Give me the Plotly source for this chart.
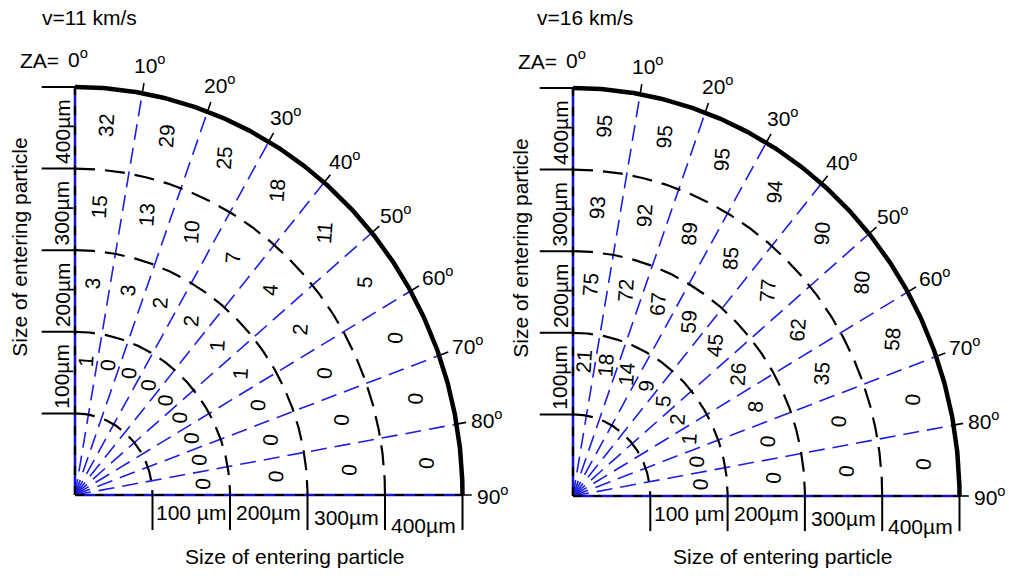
import numpy as np
import plotly.graph_objects as go

# Zenith angles of the sector boundaries (degrees from vertical)
zenith_deg = [0, 10, 20, 30, 40, 50, 60, 70, 80, 90]
# Particle size bin edges (µm); each bin is labelled by its lower edge
bin_edges_um = [100, 200, 300, 400, 500]
x_size_labels = ["100 µm", "200µm", "300µm", "400µm"]
y_size_labels = ["100µm", "200µm", "300µm", "400µm"]

# Percentages per size bin (rows: 100, 200, 300, 400 µm) and zenith sector (0-10 ... 80-90)
pct_v11 = [
    [1, 0, 0, 0, 0, 0, 0, 0, 0],
    [3, 3, 2, 2, 1, 1, 0, 0, 0],
    [15, 13, 10, 7, 4, 2, 0, 0, 0],
    [32, 29, 25, 18, 11, 5, 0, 0, 0],
]
pct_v16 = [
    [21, 18, 14, 9, 5, 2, 1, 0, 0],
    [75, 72, 67, 59, 45, 26, 8, 0, 0],
    [93, 92, 89, 85, 77, 62, 35, 0, 0],
    [95, 95, 95, 94, 90, 80, 58, 0, 0],
]
speed_titles = ["v=11 km/s", "v=16 km/s"]
axis_title = "Size of entering particle"

FONT = "Liberation Sans, Arial, sans-serif"
BLUE = "#1e1ee0"
AXIS_BLUE = "#1515c8"
W, H = 1009, 576
FS = 21

# Pixel placement of each quadrant: origin, size of one 100 µm step, title positions
panels = [
    dict(data=pct_v11, title=speed_titles[0], xa="x", ya="y", dom=[0, 0.5],
         ox=75, oy=495, ux=77.5, uy=81.6, title_px=40, ytitle_px=20, xtitle_px=294),
    dict(data=pct_v16, title=speed_titles[1], xa="x2", ya="y2", dom=[0.5, 1],
         ox=573, oy=496, ux=77.3, uy=81.6, title_px=535, ytitle_px=521, xtitle_px=782),
]

fig = go.Figure()
annotations = []
STEP = 100.0  # µm per radial unit


def line(xs, ys, p, color, width, dash="solid"):
    fig.add_trace(go.Scatter(x=xs, y=ys, mode="lines", xaxis=p["xa"], yaxis=p["ya"],
                             line=dict(color=color, width=width, dash=dash),
                             hoverinfo="skip", showlegend=False))


def note(p, x, y, text, size=FS, angle=0, **kw):
    annotations.append(dict(x=x, y=y, xref=p["xa"], yref=p["ya"], text=text,
                            showarrow=False, textangle=angle,
                            font=dict(family=FONT, size=size, color="black"), **kw))


for p in panels:
    radii = [e / STEP for e in bin_edges_um]
    r_out = radii[-1]
    th = np.radians(np.linspace(0, 90, 240))
    px_x = lambda px: (px - p["ox"]) / p["ux"]
    px_y = lambda py: (p["oy"] - py) / p["uy"]

    # blue dashed zenith-angle rays
    for a in zenith_deg[1:-1]:
        t = np.radians(a)
        line([0, r_out * np.sin(t)], [0, r_out * np.cos(t)], p, BLUE, 1.6, "16px,8px")

    # 0° and 90° axes: blue with black dashes over them
    line([0, 0], [0, r_out], p, AXIS_BLUE, 2.6)
    line([0, r_out], [0, 0], p, AXIS_BLUE, 2.6)
    line([0, 0], [0, r_out], p, "black", 2.2, "9px,11px")
    line([0, r_out], [0, 0], p, "black", 2.2, "9px,11px")

    # size-bin arcs
    for r in radii[:-1]:
        line(r * np.sin(th), r * np.cos(th), p, "black", 2.2, "20px,10px")
    line(r_out * np.sin(th), r_out * np.cos(th), p, "black", 4.5)

    # ticks along both axes
    for r in radii:
        line([-0.43, 0], [r, r], p, "black", 2)
        line([r, r], [0, -0.43], p, "black", 2)
    # small outward ticks on the outer arc
    for a in zenith_deg[1:-1]:
        t = np.radians(a)
        line([r_out * np.sin(t), 1.025 * r_out * np.sin(t)],
             [r_out * np.cos(t), 1.025 * r_out * np.cos(t)], p, "black", 1.6)
    line([r_out, r_out + 0.12], [0, 0], p, "black", 1.6)

    # zenith angle labels
    for a in zenith_deg:
        t = np.radians(a)
        rl = 5.36
        note(p, rl * np.sin(t), rl * np.cos(t), f"{a}<sup>o</sup>", xshift=3)
    note(p, px_x(p["ox"] - 14), 5.33, "ZA=", xanchor="right")

    # size labels on both axes
    y_off = [-0.22, -0.22, -0.27, -0.37]
    for i, lab in enumerate(x_size_labels):
        mid = (radii[i] + radii[i + 1]) / 2
        note(p, mid, y_off[i], lab)
    for i, lab in enumerate(y_size_labels):
        mid = (radii[i] + radii[i + 1]) / 2
        note(p, -0.17, mid - 0.04, lab, angle=-90)

    # values in each cell
    r_mid = [1.65, 2.6, 3.55, 4.55]
    for i, row in enumerate(p["data"]):
        for j, val in enumerate(row):
            t = np.radians((zenith_deg[j] + zenith_deg[j + 1]) / 2)
            note(p, r_mid[i] * np.sin(t), r_mid[i] * np.cos(t), str(val), angle=-86)

    # panel title and axis titles
    note(p, px_x(p["title_px"]), px_y(17), p["title"], xanchor="left")
    note(p, px_x(p["ytitle_px"]), 3.03, axis_title, angle=-90)
    note(p, px_x(p["xtitle_px"]), px_y(556), axis_title)

layout = dict(width=W, height=H, autosize=False, margin=dict(l=0, r=0, t=0, b=0),
              paper_bgcolor="white", plot_bgcolor="white", showlegend=False,
              annotations=annotations)
for k, p in enumerate(panels):
    sx = "" if k == 0 else "2"
    x0_px = p["dom"][0] * W
    x1_px = p["dom"][1] * W
    layout["xaxis" + sx] = dict(domain=p["dom"], anchor="y" + sx, visible=False, fixedrange=True,
                                range=[(x0_px - p["ox"]) / p["ux"], (x1_px - p["ox"]) / p["ux"]])
    layout["yaxis" + sx] = dict(domain=[0, 1], anchor="x" + sx, visible=False, fixedrange=True,
                                range=[(p["oy"] - H) / p["uy"], p["oy"] / p["uy"]])
fig.update_layout(**layout)
for tr in fig.data:
    tr.cliponaxis = False

fig.write_html("out.html")
